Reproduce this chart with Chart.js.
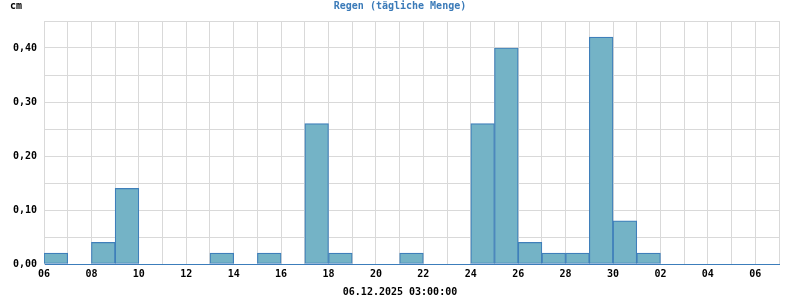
<!DOCTYPE html>
<html>
<head>
<meta charset="utf-8">
<script src="https://cdn.jsdelivr.net/npm/chart.js@4"></script>
<style>
  html, body { margin: 0; padding: 0; background: #fff; }
  #wrap { width: 800px; height: 300px; }
</style>
</head>
<body>
<div id="wrap"><canvas id="rainChart" width="800" height="300"></canvas></div>
<script>
/* ── Data ── */
const dayLabels = ['06','07','08','09','10','11','12','13','14','15','16','17','18','19','20',
                   '21','22','23','24','25','26','27','28','29','30','01','02','03','04','05','06','07'];
const rainCm    = [0.02, 0, 0.04, 0.14, 0, 0, 0, 0.02, 0, 0.02, 0, 0.26, 0.02, 0, 0,
                   0.02, 0, 0, 0.26, 0.40, 0.04, 0.02, 0.02, 0.42, 0.08, 0.02, 0, 0, 0, 0, 0];
const titleText = 'Regen (tägliche Menge)';
const unitText  = 'cm';
const dateText  = '06.12.2025 03:00:00';

const monoFont = { family: '"DejaVu Sans Mono", monospace', size: 10, weight: 'bold' };

/* ── Texts outside the axes: title, unit, timestamp ── */
const extraLabels = {
    id: 'extraLabels',
    afterDraw(chart) {
        const { ctx } = chart;
        ctx.save();
        ctx.font = 'bold 10px "DejaVu Sans Mono", monospace';
        ctx.textBaseline = 'middle';
        ctx.textAlign = 'center';
        ctx.fillStyle = '#3a7ab8';
        ctx.fillText(titleText, 400, 6);
        ctx.fillStyle = '#000';
        ctx.fillText(dateText, 400, 292);
        ctx.textAlign = 'left';
        ctx.fillText(unitText, 10, 6);
        ctx.restore();
    }
};

const points = rainCm.map((v, i) => ({ x: i + 0.5, y: v }));

new Chart(document.getElementById('rainChart'), {
    type: 'bar',
    data: {
        datasets: [{
            data: points,
            backgroundColor: '#74b3c6',
            borderColor: '#3f7fba',
            borderWidth: 1.2,
            borderSkipped: false,
            barPercentage: 1,
            categoryPercentage: 1
        }]
    },
    options: {
        responsive: false,
        animation: false,
        layout: { padding: { left: 0, right: 21, top: 21, bottom: 0 } },
        scales: {
            x: {
                type: 'linear',
                min: 0, max: 31,
                offset: false,
                afterFit: s => { s.height = 36; },
                ticks: {
                    stepSize: 1, autoSkip: false, maxRotation: 0, padding: 4,
                    color: '#000', font: monoFont,
                    callback: v => (v % 2 === 0 ? dayLabels[v] : '')
                },
                grid: { color: '#d9d9d9', drawTicks: false, offset: false },
                border: { color: '#3c7dbb', width: 1 }
            },
            y: {
                min: 0, max: 0.45,
                afterFit: s => { s.width = 44; },
                ticks: {
                    stepSize: 0.05, padding: 7, color: '#000', font: monoFont,
                    callback: v => (Math.round(v * 100) % 10 === 0 ? v.toFixed(2).replace('.', ',') : '')
                },
                grid: { color: '#d9d9d9', drawTicks: false },
                border: { color: '#d9d9d9' }
            }
        },
        plugins: {
            legend: { display: false },
            tooltip: { enabled: false },
            title: { display: false }
        }
    },
    plugins: [extraLabels]
});
</script>
</body>
</html>
